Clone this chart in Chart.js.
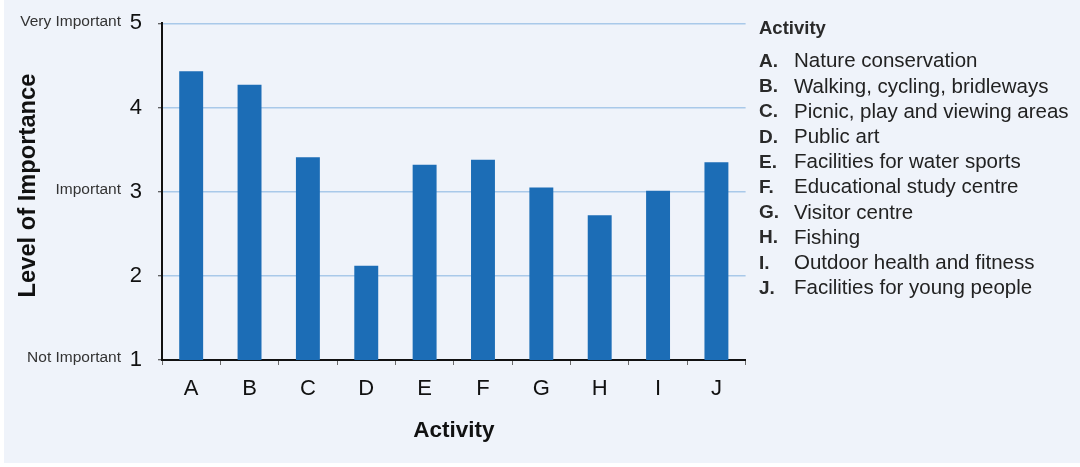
<!DOCTYPE html>
<html>
<head>
<meta charset="utf-8">
<script src="https://cdn.jsdelivr.net/npm/chart.js@4/dist/chart.umd.min.js"></script>
<style>
  html, body { margin: 0; padding: 0; background: #ffffff; }
  #wrap { width: 1080px; height: 467px; position: relative; }
</style>
</head>
<body>
<div id="wrap"><canvas id="chart" width="1080" height="467"></canvas></div>
<script>
// Activity codes along the x axis
const categories = ['A', 'B', 'C', 'D', 'E', 'F', 'G', 'H', 'I', 'J'];

// Full activity names for the key on the right
const activityNames = [
  'Nature conservation',
  'Walking, cycling, bridleways',
  'Picnic, play and viewing areas',
  'Public art',
  'Facilities for water sports',
  'Educational study centre',
  'Visitor centre',
  'Fishing',
  'Outdoor health and fitness',
  'Facilities for young people'
];

// Mean importance rating per activity (1 = not important, 5 = very important)
const importanceScores = [4.43, 4.27, 3.41, 2.12, 3.32, 3.38, 3.05, 2.72, 3.01, 3.35];

// Rating scale and the verbal anchors beside some of its ticks
const ratingTicks = [1, 2, 3, 4, 5];
const anchorLevels = [1, 3, 5];
const anchorNames = ['Not Important', 'Important', 'Very Important'];

const FONT = "'Liberation Sans', Arial, Helvetica, sans-serif";

const panelBackground = {
  id: 'panelBackground',
  beforeDraw(chart) {
    const ctx = chart.ctx;
    ctx.save();
    ctx.fillStyle = '#ffffff';
    ctx.fillRect(0, 0, chart.width, chart.height);
    ctx.fillStyle = '#eff3fa';
    ctx.fillRect(4, 0, chart.width - 4, chart.height - 4);
    ctx.restore();
  }
};

// Verbal anchors next to the rating numbers, plus the vertical axis title
const ratingAnchors = {
  id: 'ratingAnchors',
  afterDraw(chart) {
    const ctx = chart.ctx;
    const y = chart.scales.y;
    ctx.save();
    ctx.font = '15.5px ' + FONT;
    ctx.fillStyle = '#333333';
    ctx.textAlign = 'right';
    ctx.textBaseline = 'middle';
    anchorLevels.forEach((lvl, i) => {
      ctx.fillText(anchorNames[i], 121, y.getPixelForValue(lvl) - 2);
    });

    ctx.translate(34.5, 185.5);
    ctx.rotate(-Math.PI / 2);
    ctx.font = 'bold 23.7px ' + FONT;
    ctx.fillStyle = '#111111';
    ctx.textAlign = 'center';
    ctx.textBaseline = 'alphabetic';
    ctx.fillText('Level of Importance', 0, 0);
    ctx.restore();
  }
};

const activityKey = {
  id: 'activityKey',
  afterDraw(chart) {
    const ctx = chart.ctx;
    ctx.save();
    ctx.textBaseline = 'middle';
    ctx.textAlign = 'left';
    ctx.fillStyle = '#2a2a2a';
    ctx.font = 'bold 18.5px ' + FONT;
    ctx.fillText('Activity', 759, 29);
    categories.forEach((code, i) => {
      const rowY = 61.7 + i * 25.2;
      ctx.fillStyle = '#2a2a2a';
      ctx.font = 'bold 19px ' + FONT;
      ctx.fillText(code + '.', 759, rowY);
      ctx.fillStyle = '#222222';
      ctx.font = '20.5px ' + FONT;
      ctx.fillText(activityNames[i], 794, rowY);
    });
    ctx.restore();
  }
};

new Chart(document.getElementById('chart'), {
  type: 'bar',
  data: {
    labels: categories,
    datasets: [{
      data: importanceScores,
      backgroundColor: '#1c6db6',
      borderWidth: 0,
      categoryPercentage: 1.0,
      barPercentage: 0.41
    }]
  },
  options: {
    responsive: false,
    animation: false,
    devicePixelRatio: 1,
    layout: { padding: { top: 23.3, right: 334.4, left: 0, bottom: 0 } },
    plugins: {
      legend: { display: false },
      tooltip: { enabled: false }
    },
    scales: {
      x: {
        offset: true,
        grid: {
          display: true,
          offset: true,
          drawOnChartArea: false,
          drawTicks: true,
          tickLength: 5,
          tickColor: '#6a6a6a',
          lineWidth: 1
        },
        border: { display: true, color: '#111111', width: 2 },
        ticks: {
          font: { family: FONT, size: 22 },
          color: '#111111',
          padding: 11,
          maxRotation: 0
        },
        title: {
          display: true,
          text: 'Activity',
          font: { family: FONT, size: 22.5, weight: 'bold' },
          color: '#111111',
          padding: { top: 0, bottom: 23 }
        },
        afterFit(scale) {
          scale.height = 107;
          scale.paddingLeft = 0;
          scale.paddingRight = 0;
        }
      },
      y: {
        min: 1,
        max: 5,
        afterBuildTicks(scale) {
          scale.ticks = ratingTicks.map(v => ({ value: v }));
        },
        grid: {
          color: '#a9c9e9',
          lineWidth: 1.5,
          drawTicks: true,
          tickLength: 4,
          tickColor: '#333333',
          tickWidth: 1
        },
        border: { display: true, color: '#111111', width: 2 },
        ticks: {
          font: { family: FONT, size: 22 },
          color: '#111111',
          padding: 16
        },
        title: { display: false },
        afterFit(scale) {
          scale.width = 162;
          scale.paddingTop = 0;
          scale.paddingBottom = 0;
        }
      }
    }
  },
  plugins: [panelBackground, ratingAnchors, activityKey]
});
</script>
</body>
</html>
